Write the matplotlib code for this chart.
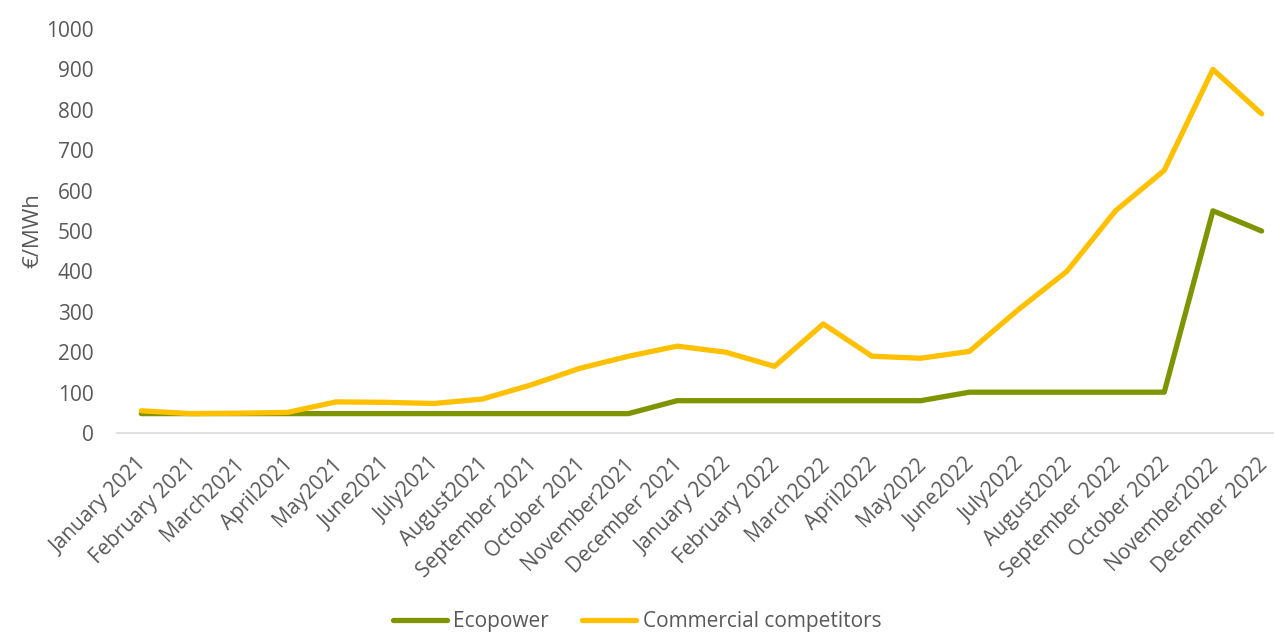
import matplotlib
matplotlib.use("Agg")
import matplotlib.pyplot as plt
from matplotlib.transforms import ScaledTranslation

months = ["January 2021", "February 2021", "March2021", "April2021", "May2021", "June2021",
          "July2021", "August2021", "September 2021", "October 2021", "November2021", "December 2021",
          "January 2022", "February 2022", "March2022", "April2022", "May2022", "June2022",
          "July2022", "August2022", "September 2022", "October 2022", "November2022", "December 2022"]
ecopower = [48, 48, 48, 48, 48, 48, 48, 48, 48, 48, 48, 80,
            80, 80, 80, 80, 80, 101, 101, 101, 101, 101, 550, 500]
competitors = [55, 48, 49, 51, 77, 76, 73, 84, 119, 160, 190, 215,
               200, 165, 270, 190, 185, 202, 305, 400, 550, 650, 900, 790]

plt.rcParams['font.family'] = ['Open Sans', 'DejaVu Sans']
txt = '#595959'

fig = plt.figure(figsize=(12.74, 6.34), dpi=100)
ax = fig.add_axes([117/1274, 1-433/634, (1286-117)/1274, (433-29)/634])
x = list(range(len(months)))
l1, = ax.plot(x, ecopower, color='#7F9500', lw=3.8, solid_capstyle='round', solid_joinstyle='round', label='Ecopower')
l2, = ax.plot(x, competitors, color='#FFC000', lw=3.8, solid_capstyle='round', solid_joinstyle='round', label='Commercial competitors')

ax.set_xlim(-0.5, 23.5)
ax.set_ylim(0, 1000)
ax.set_yticks(range(0, 1001, 100))
ax.set_xticks(x)
ax.set_xticklabels(months, rotation=45, ha='right', rotation_mode='anchor')
ax.tick_params(axis='both', length=0, colors=txt)
ax.tick_params(axis='x', pad=15, labelsize=15)
ax.tick_params(axis='y', pad=17, labelsize=15)
off = ScaledTranslation(-5/100, 0, fig.dpi_scale_trans)
for lab in ax.get_xticklabels():
    lab.set_transform(lab.get_transform() + off)
for s in ['top', 'right', 'left']:
    ax.spines[s].set_visible(False)
ax.spines['bottom'].set_color('#D9D9D9')
ax.spines['bottom'].set_linewidth(1.2)
ax.set_ylabel('€/MWh', fontsize=16, color=txt, labelpad=2)

fig.legend(handles=[l1, l2], loc='center', bbox_to_anchor=(0.5, 1-622/634), ncol=2, frameon=False,
           fontsize=15, labelcolor=txt, handlelength=2.6, handletextpad=0.3, columnspacing=1.6)

fig.savefig('out.png', dpi=100)
